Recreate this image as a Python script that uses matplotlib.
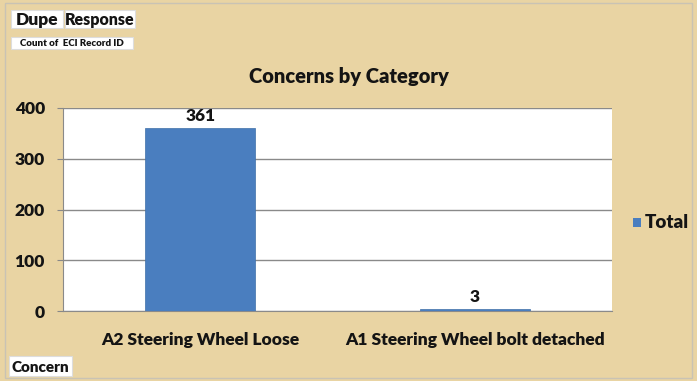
import matplotlib
matplotlib.use("Agg")
import matplotlib.pyplot as plt
from matplotlib.patches import Rectangle

plt.rcParams['font.family'] = ['Lato', 'DejaVu Sans']

categories = ["A2 Steering Wheel Loose", "A1 Steering Wheel bolt detached"]
totals = [361, 3]
yticks = [0, 100, 200, 300, 400]

paper = "#e9d4a3"
bar_blue = "#4a7ebf"
ink = "#141414"
wt = "heavy"

fig = plt.figure(figsize=(6.97, 3.81), dpi=100)
fig.patch.set_facecolor(paper)
W, H = 697, 381

# plot area in pixel coords -> figure fraction
left, right, top, bottom = 63, 612, 108, 311
ax = fig.add_axes([left / W, 1 - bottom / H, (right - left) / W, (bottom - top) / H])
ax.set_facecolor("white")

x = range(len(categories))
bars = ax.bar(x, totals, width=0.4, color=bar_blue, edgecolor="#3f6fa8", linewidth=0.5, zorder=3)
for xi, v in zip(x, totals):
    ax.text(xi, v + 8, str(v), ha="center", va="bottom", fontsize=12.5, fontweight=wt, color=ink)

ax.set_xlim(-0.5, 1.5)
ax.set_ylim(0, 400)
ax.set_yticks(yticks)
ax.set_yticklabels([str(t) for t in yticks], fontsize=12.5, fontweight=wt, color=ink)
ax.set_xticks(list(x))
ax.set_xticklabels(categories, fontsize=12.5, fontweight=wt, color=ink)
ax.tick_params(axis="x", length=0, pad=15)
ax.tick_params(axis="y", length=4, color="#888888", pad=9)
ax.yaxis.grid(True, color="#8a8a8a", linewidth=1, zorder=0)
for side in ["top", "right"]:
    ax.spines[side].set_visible(False)
ax.spines["left"].set_color("#8a8a8a")
ax.spines["bottom"].set_color("#8a8a8a")

fig.text(349 / W, 1 - 76 / H, "Concerns by Category", ha="center", va="center",
         fontsize=14.5, fontweight=wt, color=ink)

# legend
fig.patches.append(Rectangle((633 / W, 1 - 227 / H), 8 / W, 9 / H, transform=fig.transFigure,
                             facecolor=bar_blue, edgecolor="none"))
fig.text(645 / W, 1 - 223 / H, "Total", ha="left", va="center", fontsize=13.5,
         fontweight=wt, color=ink)

# pivot field buttons
def field_button(x0, y0, w, h, label, size):
    fig.patches.append(Rectangle((x0 / W, 1 - (y0 + h) / H), w / W, h / H,
                                 transform=fig.transFigure, facecolor="white",
                                 edgecolor="#dddddd", linewidth=0.8))
    fig.text((x0 + w / 2) / W, 1 - (y0 + h / 2 + 1) / H, label, ha="center", va="center",
             fontsize=size, fontweight=wt, color=ink)

field_button(11, 10, 52, 18, "Dupe", 12.5)
field_button(65, 10, 70, 18, "Response", 11.5)
field_button(11, 37, 122, 12, "Count of  ECI Record ID", 7)
field_button(9, 356, 63, 20, "Concern", 11)

# outer frame
fig.patches.append(Rectangle((5 / W, 3 / H), (W - 10) / W, (H - 6) / H, transform=fig.transFigure,
                             facecolor="none", edgecolor="#c9c3b4", linewidth=1))

fig.savefig("out.png", dpi=100, facecolor=fig.get_facecolor())
